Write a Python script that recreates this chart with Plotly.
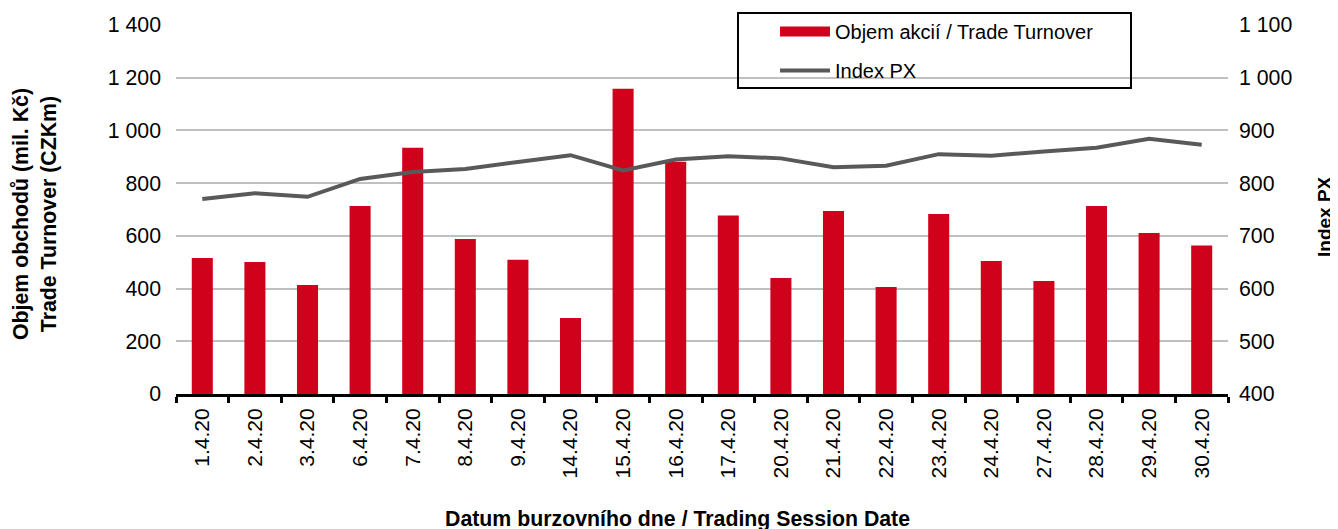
import plotly.graph_objects as go

dates = ["1.4.20", "2.4.20", "3.4.20", "6.4.20", "7.4.20", "8.4.20", "9.4.20", "14.4.20",
         "15.4.20", "16.4.20", "17.4.20", "20.4.20", "21.4.20", "22.4.20", "23.4.20",
         "24.4.20", "27.4.20", "28.4.20", "29.4.20", "30.4.20"]
turnover = [516, 501, 414, 713, 934, 588, 509, 288, 1158, 881, 677, 440, 694, 406, 683,
            505, 429, 713, 611, 563]
index_px = [770, 781, 774, 808, 821, 827, 840, 853, 824, 845, 851, 847, 830, 833, 855,
            852, 860, 867, 884, 873]

left_ticks = [0, 200, 400, 600, 800, 1000, 1200, 1400]
left_ticktext = ["0", "200", "400", "600", "800", "1 000", "1 200", "1 400"]
right_ticks = [400, 500, 600, 700, 800, 900, 1000, 1100]
right_ticktext = ["400", "500", "600", "700", "800", "900", "1 000", "1 100"]

FONT = "Liberation Sans, Arial, sans-serif"
RED = "#D0021B"
GREY = "#595959"

# page body has an 8px margin; plot area in screen coords: x 176..1228, y 25..394
L, R, T, B = 168, 118, 17, 143
PW = 1338 - L - R
PH = 529 - T - B


def px(xs):
    return (xs - 8 - L) / PW


def py(ys):
    return (529 - B - (ys - 8)) / PH


fig = go.Figure()
fig.add_trace(go.Bar(x=dates, y=turnover, name="Objem akcií / Trade Turnover",
                     marker=dict(color=RED, line=dict(width=0)), showlegend=False))
fig.add_trace(go.Scatter(x=dates, y=index_px, name="Index PX", yaxis="y2", mode="lines",
                         line=dict(color=GREY, width=4), showlegend=False))
# legend entries drawn as lines (the reference shows a wide red bar swatch)
fig.add_trace(go.Scatter(x=[None], y=[None], mode="lines", name="Objem akcií / Trade Turnover",
                         line=dict(color=RED, width=10), legendgroup="a", hoverinfo="skip"))
fig.add_trace(go.Scatter(x=[None], y=[None], mode="lines", name="Index PX", yaxis="y2",
                         line=dict(color=GREY, width=4), legendgroup="b", hoverinfo="skip"))

fig.update_layout(
    width=1338, height=529,
    margin=dict(l=L, r=R, t=T, b=B, autoexpand=False),
    paper_bgcolor="white", plot_bgcolor="white",
    font=dict(family=FONT, size=20, color="black"),
    bargap=0.6,
    showlegend=True,
    legend=dict(x=px(775), y=py(12), xanchor="left", yanchor="top",
                bgcolor="rgba(0,0,0,0)", borderwidth=0,
                font=dict(size=20), tracegroupgap=10, itemwidth=50),
    xaxis=dict(type="category", tickangle=-90, showline=True, linecolor="black", linewidth=3,
               ticks="outside", tickson="boundaries", ticklen=6, tickwidth=3, tickcolor="black",
               tickfont=dict(size=21), showgrid=False, automargin=False,
               ticklabelstandoff=3),
    yaxis=dict(range=[0, 1400], tickvals=left_ticks, ticktext=left_ticktext,
               showgrid=True, gridcolor="#C0C0C0", gridwidth=2, zeroline=False,
               showline=False, ticks="", tickfont=dict(size=21.3), automargin=False,
               ticklabelstandoff=14),
    yaxis2=dict(range=[400, 1100], tickvals=right_ticks, ticktext=right_ticktext,
                overlaying="y", side="right", showgrid=False, zeroline=False,
                showline=False, ticks="", tickfont=dict(size=21.3), automargin=False,
                ticklabelstandoff=10),
    shapes=[dict(type="rect", xref="paper", yref="paper",
                 x0=px(738), x1=px(1131), y0=py(88), y1=py(13),
                 line=dict(color="black", width=2), fillcolor="rgba(0,0,0,0)")],
    annotations=[
        dict(text="<b>Datum burzovního dne / Trading Session Date</b>", xref="paper", yref="paper",
             x=px(677), y=py(519), xanchor="center", yanchor="middle", showarrow=False,
             font=dict(size=21.3)),
        dict(text="<b>Objem obchodů (mil. Kč)<br>Trade Turnover (CZKm)</b>", xref="paper",
             yref="paper", x=px(35), y=py(214), xanchor="center", yanchor="middle",
             textangle=-90, showarrow=False, font=dict(size=21.3)),
        dict(text="<b>Index PX</b>", xref="paper", yref="paper", x=px(1325), y=py(217),
             xanchor="center", yanchor="middle", textangle=-90, showarrow=False,
             font=dict(size=19)),
    ],
)

fig.write_html("out.html")
